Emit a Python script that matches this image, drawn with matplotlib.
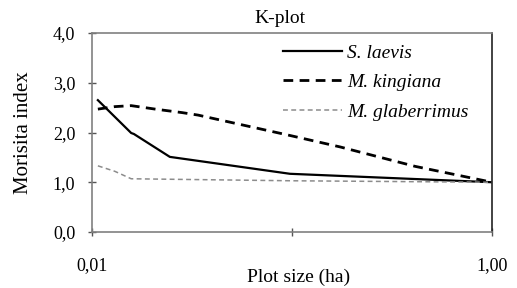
import matplotlib
matplotlib.use("Agg")
import matplotlib.pyplot as plt

plt.rcParams['font.family'] = ['Liberation Serif', 'DejaVu Serif']

# Data (plot size in ha, Morisita index)
x_laevis = [0.0107, 0.0157, 0.0162, 0.0245, 0.0977, 1.0]
y_laevis = [2.65, 1.99, 1.97, 1.51, 1.17, 1.0]

x_kingiana = [0.0107, 0.0130, 0.0157, 0.0207, 0.0282, 0.0339, 0.0977, 0.174, 0.412, 1.0]
y_kingiana = [2.47, 2.52, 2.54, 2.47, 2.40, 2.35, 1.94, 1.71, 1.32, 1.0]

x_glab = [0.0107, 0.0130, 0.0157, 0.0977, 1.0]
y_glab = [1.33, 1.22, 1.07, 1.03, 1.0]

labels = ['S. laevis', 'M. kingiana', 'M. glaberrimus']
xticks = [0.01, 0.1, 1.0]
xticklabels = ['0,01', '', '1,00']
yticks = [0, 1, 2, 3, 4]
yticklabels = ['0,0', '1,0', '2,0', '3,0', '4,0']

fig = plt.figure(figsize=(5.17, 2.88), dpi=100)
ax = fig.add_axes([92/517, 1-232/288, 400/517, 199/288])

ax.plot(x_laevis, y_laevis, color='black', lw=1.6, label=labels[0])
ax.plot(x_kingiana, y_kingiana, color='black', lw=2.0, ls=(0, (3.5, 2.3)), label=labels[1])
ax.plot(x_glab, y_glab, color='#8c8c8c', lw=1.1, ls=(0, (3.2, 2.2)), label=labels[2])

ax.set_xscale('log')
ax.set_xlim(0.01, 1.0)
ax.set_ylim(0, 4)
ax.set_xticks(xticks)
ax.set_xticklabels(xticklabels)
ax.minorticks_off()
ax.set_yticks(yticks)
ax.set_yticklabels(yticklabels)

ax.tick_params(axis='both', direction='inout', length=6, width=1.0, color='#555555',
               labelsize=13)
ax.tick_params(axis='x', pad=15)
ax.tick_params(axis='y', pad=9)

for s in ['left', 'bottom', 'top']:
    ax.spines[s].set_color('#808080')
    ax.spines[s].set_linewidth(1.2)
ax.spines['right'].set_color('#222222')
ax.spines['right'].set_linewidth(1.2)

ax.set_title('K-plot', fontsize=14, x=0.47, pad=7)
ax.set_xlabel('Plot size (ha)', fontsize=14)
ax.xaxis.set_label_coords(0.5175, -0.185)
ax.set_ylabel('Morisita index', fontsize=15)
ax.yaxis.set_label_coords(-0.1475, 0.5)

leg = ax.legend(loc='upper left', bbox_to_anchor=(283/517, 1-44/288),
                bbox_transform=fig.transFigure, frameon=False,
                prop={'style': 'italic', 'size': 14}, handlelength=3.05,
                handletextpad=0.25, labelspacing=0.62, borderpad=0, borderaxespad=0)

fig.savefig('out.png', dpi=100)
